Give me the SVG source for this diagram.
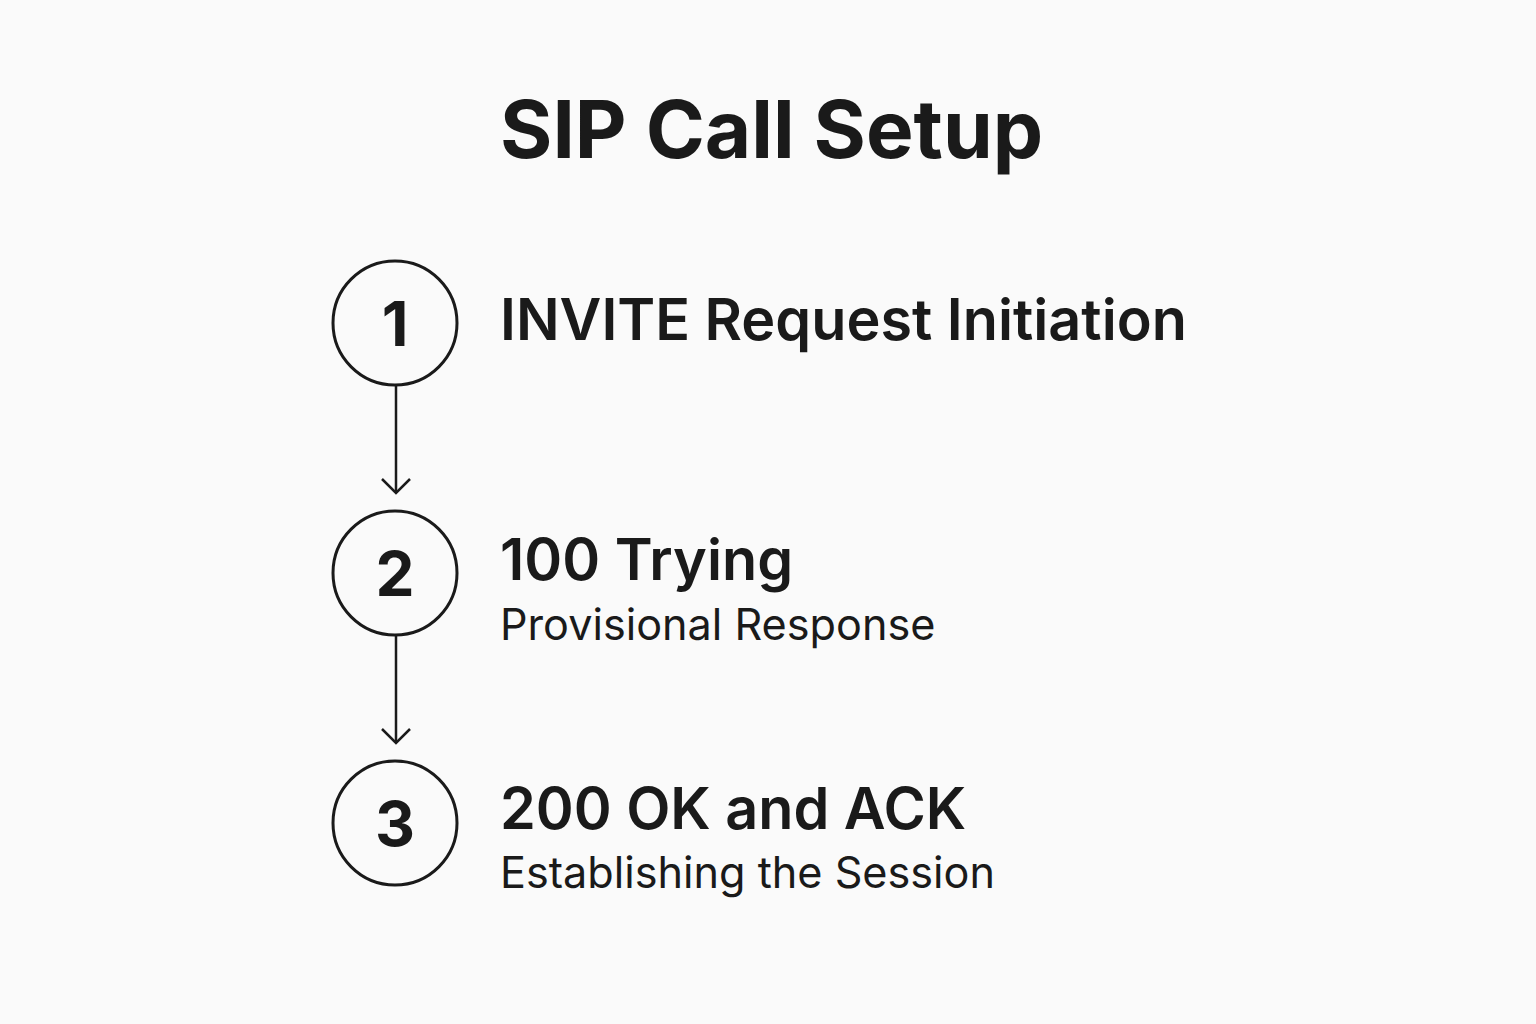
<svg xmlns="http://www.w3.org/2000/svg" width="1536" height="1024" viewBox="0 0 1536 1024">
<defs>
<style>
.c{fill:none;stroke:#1a1a1a;stroke-width:3}
.n{font-family:Inter,"Noto Sans",sans-serif;font-weight:700;font-size:62px;fill:#1a1a1a;text-anchor:middle}
.h{font-family:Inter,"Noto Sans",sans-serif;font-weight:600;font-size:57.5px;fill:#1a1a1a}
.s{font-family:Inter,"Noto Sans",sans-serif;font-weight:400;font-size:43.2px;fill:#1a1a1a}
.l{stroke:#1a1a1a;stroke-width:2.5;fill:none}
</style>
<marker id="a" markerWidth="12" markerHeight="12" refX="10" refY="6" orient="auto" markerUnits="userSpaceOnUse" viewBox="0 0 12 12" overflow="visible">
<path d="M-4,-8 L10,6 L-4,20" fill="none" stroke="#1a1a1a" stroke-width="2.5"/>
</marker>
</defs>
<rect width="1536" height="1024" fill="#fafafa"/>
<text x="500" y="158" font-family="Inter,'Noto Sans',sans-serif" font-weight="700" font-size="80" fill="#1a1a1a">SIP Call Setup</text>
<g id="connectors">
<line class="l" x1="396" y1="386" x2="396" y2="493" marker-end="url(#a)"/>
<line class="l" x1="396" y1="636" x2="396" y2="743" marker-end="url(#a)"/>
</g>
<g id="step1">
<circle class="c" cx="395" cy="323" r="62"/>
<text class="n" x="395" y="346">1</text>
<text class="h" x="500" y="340">INVITE Request Initiation</text>
</g>
<g id="step2">
<circle class="c" cx="395" cy="573" r="62"/>
<text class="n" x="395" y="596">2</text>
<text class="h" x="500" y="580">100 Trying</text>
<text class="s" x="500" y="640">Provisional Response</text>
</g>
<g id="step3">
<circle class="c" cx="395" cy="823" r="62"/>
<text class="n" x="395" y="846">3</text>
<text class="h" x="500" y="829">200 OK and ACK</text>
<text class="s" x="500" y="888">Establishing the Session</text>
</g>
</svg>
